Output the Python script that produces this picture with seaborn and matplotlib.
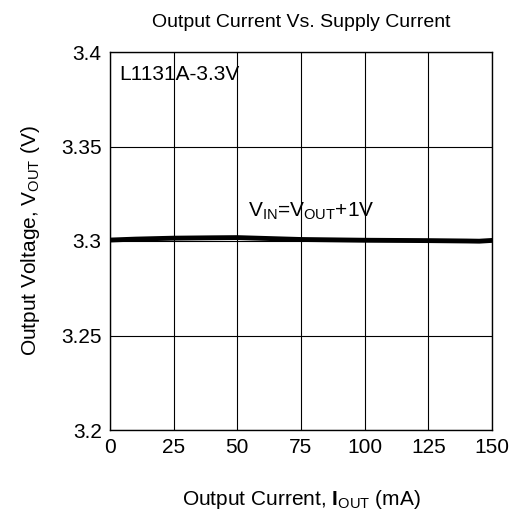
import matplotlib
matplotlib.use('Agg')
import matplotlib.pyplot as plt
import pandas as pd
import seaborn as sns

sns.set_style('white')
plt.rcParams['font.family'] = ['Liberation Sans', 'DejaVu Sans']
plt.rcParams['mathtext.fontset'] = 'custom'
plt.rcParams['mathtext.rm'] = 'Liberation Sans'
plt.rcParams['mathtext.it'] = 'Liberation Sans'
plt.rcParams['mathtext.bf'] = 'Liberation Sans:bold'
plt.rcParams['text.color'] = 'black'
plt.rcParams['axes.labelcolor'] = 'black'
plt.rcParams['xtick.color'] = 'black'
plt.rcParams['ytick.color'] = 'black'

i_out = [0, 10, 25, 40, 50, 60, 75, 100, 125, 140, 145, 150]
v_out = [3.3005, 3.3010, 3.3015, 3.3017, 3.3018, 3.3014, 3.3008, 3.3004, 3.3002, 3.3000, 3.2999, 3.3003]
x_ticks = [0, 25, 50, 75, 100, 125, 150]
y_ticks = [3.2, 3.25, 3.3, 3.35, 3.4]
y_labels = ['3.2', '3.25', '3.3', '3.35', '3.4']

df = pd.DataFrame({'iout': i_out, 'vout': v_out})

fig = plt.figure(figsize=(5.16, 5.16), dpi=100)
ax = fig.add_axes([110 / 516, 86 / 516, 382 / 516, 378 / 516])
sns.lineplot(data=df, x='iout', y='vout', ax=ax, color='black', linewidth=3.5)

ax.set_xlim(0, 150)
ax.set_ylim(3.2, 3.4)
ax.set_xticks(x_ticks)
ax.set_yticks(y_ticks)
ax.set_yticklabels(y_labels)
ax.grid(True, color='black', linewidth=0.8)
ax.tick_params(labelsize=15, length=0, pad=6)
for s in ax.spines.values():
    s.set_color('black')
    s.set_linewidth(1)

ax.set_xlabel(r'Output Current, $\mathbf{I}_{\mathrm{OUT}}$ (mA)', fontsize=15, labelpad=22)
ax.set_ylabel(r'Output Voltage, $\mathrm{V_{OUT}}$ (V)', fontsize=15, labelpad=14)
ax.set_title('Output Current Vs. Supply Current', fontsize=14, pad=18)

ax.text(3.5, 3.388, 'L1131A-3.3V', fontsize=15, va='center')
ax.text(79, 3.3155, r'$\mathrm{V_{IN}}$=$\mathrm{V_{OUT}}$+1V', fontsize=15, ha='center', va='center')

fig.savefig('out.png', dpi=100)
